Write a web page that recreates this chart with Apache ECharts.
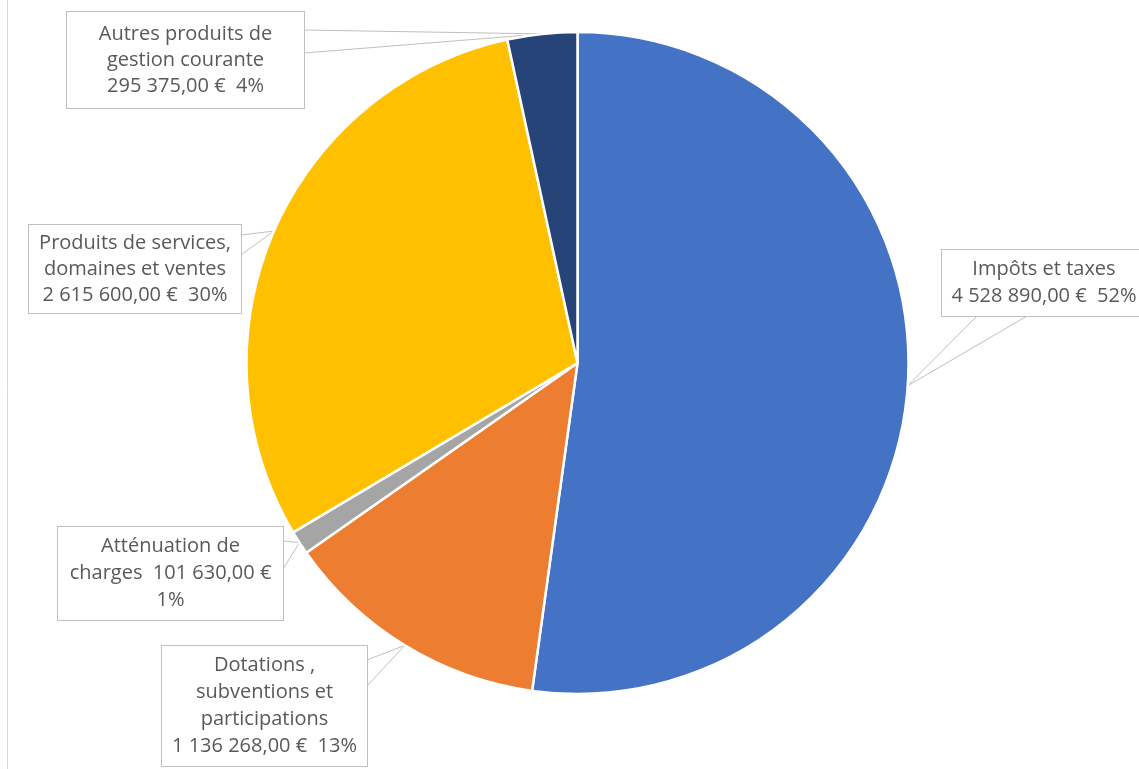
<!DOCTYPE html>
<html>
<head>
<meta charset="utf-8">
<style>
  html, body { margin: 0; padding: 0; background: #fff; }
  #chart { width: 1139px; height: 769px; }
</style>
<script src="https://cdn.jsdelivr.net/npm/echarts@6/dist/echarts.min.js"></script>
</head>
<body>
<div id="chart"></div>
<script>
// Recettes de fonctionnement, par chapitre
const categories = [
  'Impôts et taxes',
  'Dotations , subventions et participations',
  'Atténuation de charges',
  'Produits de services, domaines et ventes',
  'Autres produits de gestion courante'
];
const amounts = [4528890, 1136268, 101630, 2615600, 295375];
const sliceColors = ['#4472C4', '#ED7D31', '#A5A5A5', '#FFC000', '#264478'];
// Label text, with its line breaks; {v} = amount, {p} = share
const labelTemplates = [
  'Impôts et taxes\n{v}  {p}',
  'Dotations ,\nsubventions et\nparticipations\n{v}  {p}',
  'Atténuation de\ncharges  {v}\n{p}',
  'Produits de services,\ndomaines et ventes\n{v}  {p}',
  'Autres produits de\ngestion courante\n{v}  {p}'
];

// Callout boxes: left, top, width, line height, vertical padding,
// side carrying the pointer and the two offsets of its base along that side
const callouts = [
  { left: 942, top: 250, w: 204, lh: 27, pv: 6, side: 'bottom', a: 35, b: 85 },
  { left: 162, top: 646, w: 205, lh: 27, pv: 6, side: 'right', a: 14, b: 40 },
  { left: 58,  top: 527, w: 225, lh: 27, pv: 6, side: 'right', a: 14, b: 42 },
  { left: 29,  top: 225, w: 212, lh: 26, pv: 5, side: 'right', a: 10, b: 30 },
  { left: 67,  top: 12,  w: 237, lh: 26, pv: 9, side: 'right', a: 18, b: 41 }
];

function money(n) {
  const parts = n.toFixed(2).split('.');
  const intPart = parts[0].replace(/\B(?=(\d{3})+(?!\d))/g, ' ');
  return intPart + ',' + parts[1] + ' €';
}

function boxHeight(c, i) {
  const lines = labelTemplates[i].split('\n').length;
  return lines * c.lh + 2 * c.pv;
}

const seriesData = categories.map((name, i) => ({
  name: name,
  value: amounts[i],
  itemStyle: { color: sliceColors[i] },
  label: {
    width: callouts[i].w,
    lineHeight: callouts[i].lh,
    padding: [callouts[i].pv, 0]
  }
}));

const chart = echarts.init(document.getElementById('chart'), null, { renderer: 'canvas' });

chart.setOption({
  backgroundColor: '#ffffff',
  animation: false,
  graphic: [{
    type: 'line',
    shape: { x1: 7.5, y1: 0, x2: 7.5, y2: 769 },
    style: { stroke: '#d9d9d9', lineWidth: 1 },
    silent: true
  }],
  series: [{
    type: 'pie',
    center: [577.5, 363],
    radius: 331,
    startAngle: 90,
    clockwise: true,
    avoidLabelOverlap: false,
    percentPrecision: 0,
    itemStyle: { borderColor: '#ffffff', borderWidth: 2.5 },
    emphasis: { disabled: true },
    data: seriesData,
    label: {
      show: true,
      position: 'outside',
      fontFamily: '"Open Sans", Lato, sans-serif',
      fontSize: 20,
      color: '#595959',
      align: 'center',
      backgroundColor: '#ffffff',
      borderColor: '#bfbfbf',
      borderWidth: 1,
      overflow: 'none',
      formatter: function (p) {
        return labelTemplates[p.dataIndex]
          .replace('{v}', money(p.value))
          .replace('{p}', p.percent + '%');
      }
    },
    labelLine: {
      show: true,
      smooth: false,
      lineStyle: { color: '#bfbfbf', width: 1 }
    },
    labelLayout: function (params) {
      const i = params.dataIndex;
      const c = callouts[i];
      const h = boxHeight(c, i);
      const tip = params.labelLinePoints && params.labelLinePoints[0];
      let p1, p2;
      if (c.side === 'bottom') {
        p1 = [c.left + c.a, c.top + h];
        p2 = [c.left + c.b, c.top + h];
      } else {
        p1 = [c.left + c.w, c.top + c.a];
        p2 = [c.left + c.w, c.top + c.b];
      }
      const out = {
        x: c.left + c.w / 2,
        y: c.top + h / 2,
        align: 'center',
        verticalAlign: 'middle'
      };
      if (tip) {
        out.labelLinePoints = [p1, tip, p2];
      }
      return out;
    }
  }]
});
</script>
</body>
</html>
